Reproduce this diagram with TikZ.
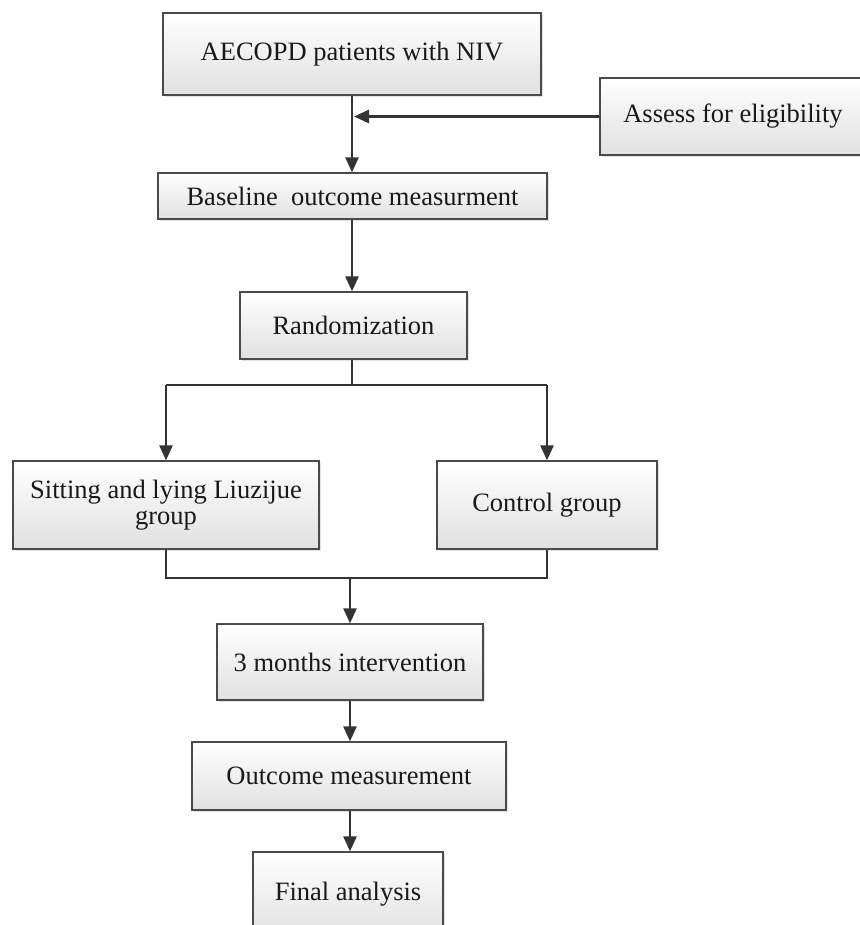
\documentclass[tikz,border=0pt]{standalone}
\usepackage{fontspec}
\setmainfont{Liberation Serif}
\usetikzlibrary{arrows.meta,shadows,calc}
\definecolor{linec}{HTML}{333333}
\definecolor{boxline}{HTML}{4A4A4A}
\tikzset{
  box/.style={draw=boxline, line width=1.3pt, top color=white, bottom color=black!12,
    drop shadow={opacity=0.22, shadow xshift=2pt, shadow yshift=-2pt},
    inner sep=0pt, align=center, font=\fontsize{26.5}{26}\selectfont, text=black!90},
  conn/.style={draw=linec, line width=2.6pt},
  arr/.style={conn, -{Triangle[length=15pt,width=13pt]}},
}
\begin{document}
\begin{tikzpicture}[x=1pt,y=-1pt]
\useasboundingbox (0,0) rectangle (859,925);
\fill[white] (0,0) rectangle (859,925);
% nodes
\node[box, minimum width=378pt, minimum height=82pt] (b1) at (352,54) {AECOPD patients with NIV};
\node[box, minimum width=266pt, minimum height=77pt] (assess) at (733,116.5) {Assess for eligibility};
\node[box, minimum width=389pt, minimum height=46pt] (base) at (352.5,196) {Baseline\ \ outcome measurment};
\node[box, minimum width=227pt, minimum height=67pt] (rand) at (353.5,325.5) {Randomization};
\node[box, minimum width=306pt, minimum height=88pt] (sit) at (166,505) {Sitting and lying Liuzijue\\group};
\node[box, minimum width=220pt, minimum height=88pt] (ctrl) at (547,505) {Control group};
\node[box, minimum width=266pt, minimum height=76pt] (three) at (350,662) {3 months intervention};
\node[box, minimum width=314pt, minimum height=68pt] (outc) at (349,776) {Outcome measurement};
\node[box, minimum width=190pt, minimum height=85pt] (final) at (348,894.5) {Final analysis};
% helper coordinates
\coordinate (spine) at (352,0);
\coordinate (split) at (0,385);
\coordinate (merge) at (0,578);
\coordinate (mx) at (350,0);
% connectors
\draw[arr] (b1.south -| spine) -- (base.north -| spine);
\draw[arr] (assess.west) -- ($(assess.west -| spine)+(2,0)$);
\draw[arr] (base.south -| spine) -- (rand.north -| spine);
\draw[conn] (rand.south -| spine) -- (split -| spine);
\draw[conn] (split -| sit.north) -- (split -| ctrl.north);
\draw[arr] (split -| sit.north) -- (sit.north);
\draw[arr] (split -| ctrl.north) -- (ctrl.north);
\draw[conn] (sit.south) -- (merge -| sit.south) -- (merge -| ctrl.south) -- (ctrl.south);
\draw[arr] (merge -| mx) -- (three.north -| mx);
\draw[arr] (three.south -| mx) -- (outc.north -| mx);
\draw[arr] (outc.south -| mx) -- (final.north -| mx);
\end{tikzpicture}
\end{document}
